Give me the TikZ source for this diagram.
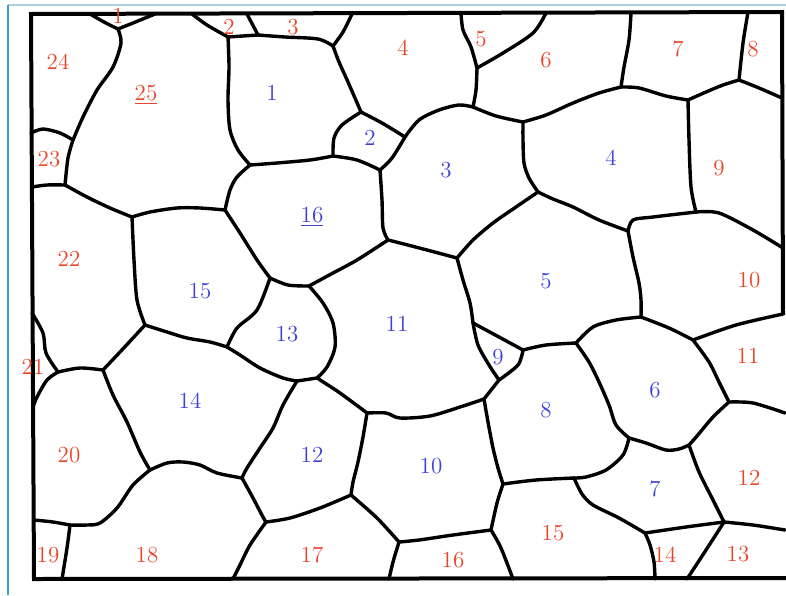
\documentclass[tikz,border=0pt]{standalone}
\usepackage{tikz}
\definecolor{grainred}{RGB}{232,68,40}
\definecolor{grainblue}{RGB}{64,64,214}
\definecolor{shotblue}{RGB}{60,160,205}
\definecolor{shotpale}{RGB}{175,205,225}
\begin{document}
\begin{tikzpicture}[x=0.5pt, y=-0.5pt,
  gb/.style={draw, line width=1.7pt, line cap=round, line join=round},
  frame/.style={draw, line width=2pt, line join=miter},
  redlab/.style={text=grainred, font=\fontsize{11.5}{13}\selectfont, inner sep=0pt},
  bluelab/.style={text=grainblue, font=\fontsize{11.5}{13}\selectfont, inner sep=0pt}]
\useasboundingbox (0,0) rectangle (786,595);
% screenshot edge
\draw[shotpale, line width=1pt] (8,5) -- (786,5);
\draw[shotblue, line width=1pt] (8,595) -- (8,5);
% frame
\draw[frame] (783,315) -- (782,12) -- (31,14) -- (34,579) -- (786,578);
% junctions
\coordinate (j1) at (118,29);
\coordinate (j2) at (73,140);
\coordinate (j3) at (65,185);
\coordinate (j4) at (132,217);
\coordinate (j5) at (145,325);
\coordinate (j6) at (225,210);
\coordinate (j7) at (228,37);
\coordinate (j8) at (250,165);
\coordinate (j10) at (270,278);
\coordinate (j11) at (309,286);
\coordinate (j12) at (388,240);
\coordinate (j13) at (333,156);
\coordinate (j14) at (361,112);
\coordinate (j15) at (380,170);
\coordinate (j16) at (473,107);
\coordinate (j17) at (405,137);
\coordinate (j18) at (333,46);
\coordinate (j19) at (258,35);
\coordinate (j20) at (477,68);
\coordinate (j21) at (621,87);
\coordinate (j22) at (523,122);
\coordinate (j23) at (688,100);
\coordinate (j24) at (739,80);
\coordinate (j25) at (696,212);
\coordinate (j26) at (628,231);
\coordinate (j27) at (538,192);
\coordinate (j28) at (457,258);
\coordinate (j29) at (641,317);
\coordinate (j30) at (693,340);
\coordinate (j31) at (729,402);
\coordinate (j32) at (689,445);
\coordinate (j33) at (724,522);
\coordinate (j34) at (645,533);
\coordinate (j35) at (574,478);
\coordinate (j36) at (629,438);
\coordinate (j37) at (576,343);
\coordinate (j38) at (523,350);
\coordinate (j39) at (499,380);
\coordinate (j40) at (473,323);
\coordinate (j41) at (484,399);
\coordinate (j42) at (503,484);
\coordinate (j43) at (491,530);
\coordinate (j44) at (399,542);
\coordinate (j45) at (351,495);
\coordinate (j46) at (367,413);
\coordinate (j47) at (317,378);
\coordinate (j48) at (297,381);
\coordinate (j49) at (242,478);
\coordinate (j50) at (266,522);
\coordinate (j51) at (103,370);
\coordinate (j52) at (150,470);
\coordinate (j53) at (227,347);
\coordinate (j54) at (58,372);
\coordinate (j55) at (70,525);
% ends on the frame
\coordinate (e1) at (90,14);
\coordinate (e2) at (155,14);
\coordinate (e3) at (192,14);
\coordinate (e4) at (247,14);
\coordinate (e5) at (352,14);
\coordinate (e6) at (461,13);
\coordinate (e7) at (546,13);
\coordinate (e8) at (631,13);
\coordinate (e9) at (748,12);
\coordinate (e10) at (782,98);
\coordinate (e11) at (783,248);
\coordinate (e12) at (783,314);
\coordinate (e13) at (785,413);
\coordinate (e14) at (785,530);
\coordinate (e15) at (687,579);
\coordinate (e16) at (655,579);
\coordinate (e17) at (513,579);
\coordinate (e18) at (389,579);
\coordinate (e19) at (233,579);
\coordinate (e20) at (62,579);
\coordinate (e21) at (34,520);
\coordinate (e22) at (33,407);
\coordinate (e23) at (32,313);
\coordinate (e24) at (32,187);
\coordinate (e25) at (31,133);
% grain boundaries, left part
\draw[gb] plot[smooth] coordinates {(e1) (104,22) (j1)};
\draw[gb] plot[smooth] coordinates {(j1) (133,23) (e2)};
\draw[gb] plot[smooth] coordinates {(j1) (121,43) (113,67) (97,90) (83,117) (j2)};
\draw[gb] plot[smooth] coordinates {(e25) (43,129) (60,133) (j2)};
\draw[gb] plot[smooth] coordinates {(j2) (68,158) (j3)};
\draw[gb] plot[smooth] coordinates {(e24) (47,185) (j3)};
\draw[gb] plot[smooth] coordinates {(j3) (87,197) (110,208) (j4)};
\draw[gb] plot[smooth] coordinates {(j4) (134,260) (137,300) (j5)};
\draw[gb] plot[smooth] coordinates {(j4) (150,212) (177,208) (200,208) (j6)};
\draw[gb] plot[smooth] coordinates {(e3) (207,25) (j7)};
\draw[gb] plot[smooth] coordinates {(j7) (229,67) (228,100) (230,130) (238,150) (j8)};
\draw[gb] plot[smooth] coordinates {(j8) (237,177) (230,190) (j6)};
\draw[gb] plot[smooth] coordinates {(j6) (240,233) (257,260) (j10)};
\draw[gb] plot[smooth] coordinates {(j10) (288,285) (j11)};
\draw[gb] plot[smooth] coordinates {(j8) (277,163) (310,160) (j13)};
\draw[gb] plot[smooth] coordinates {(j13) (357,160) (j15)};
\draw[gb] plot[smooth] coordinates {(j13) (334,138) (342,125) (j14)};
\draw[gb] plot[smooth] coordinates {(j14) (382,123) (j17)};
\draw[gb] plot[smooth] coordinates {(j15) (392,158) (j17)};
\draw[gb] plot[smooth] coordinates {(j15) (382,200) (383,228) (j12)};
\draw[gb] plot[smooth] coordinates {(j11) (333,273) (357,260) (j12)};
\draw[gb] (j7) -- (j19);
\draw[gb] (e4) -- (j19);
\draw[gb] plot[smooth] coordinates {(j19) (285,37) (318,39) (j18)};
\draw[gb] plot[smooth] coordinates {(e5) (343,32) (j18)};
\draw[gb] plot[smooth] coordinates {(j18) (339,62) (348,82) (j14)};
% top and right part
\draw[gb] plot[smooth] coordinates {(j17) (419,120) (439,110) (459,105) (j16)};
\draw[gb] plot[smooth] coordinates {(j16) (476,90) (j20)};
\draw[gb] plot[smooth] coordinates {(j20) (471,47) (463,30) (e6)};
\draw[gb] plot[smooth] coordinates {(j20) (503,53) (533,33) (e7)};
\draw[gb] plot[smooth] coordinates {(e8) (629,40) (624,67) (j21)};
\draw[gb] plot[smooth] coordinates {(j16) (496,116) (j22)};
\draw[gb] plot[smooth] coordinates {(j22) (546,115) (573,103) (599,93) (j21)};
\draw[gb] plot[smooth] coordinates {(j21) (639,88) (666,96) (j23)};
\draw[gb] plot[smooth] coordinates {(e9) (743,43) (j24)};
\draw[gb] plot[smooth] coordinates {(j23) (706,92) (723,85) (j24)};
\draw[gb] plot[smooth] coordinates {(j24) (759,88) (e10)};
\draw[gb] plot[smooth] coordinates {(j23) (689,140) (691,187) (j25)};
\draw[gb] plot[smooth] coordinates {(j25) (719,213) (753,230) (e11)};
\draw[gb] plot[smooth] coordinates {(j25) (653,217) (633,220) (j26)};
\draw[gb] plot[smooth] coordinates {(j26) (599,220) (573,207) (553,199) (j27)};
\draw[gb] plot[smooth] coordinates {(j22) (523,140) (524,163) (529,178) (j27)};
\draw[gb] plot[smooth] coordinates {(j27) (516,207) (493,223) (473,240) (j28)};
\draw[gb] plot[smooth] coordinates {(j28) (427,250) (400,243) (j12)};
\draw[gb] plot[smooth] coordinates {(j26) (633,257) (639,283) (641,300) (j29)};
\draw[gb] plot[smooth] coordinates {(j29) (669,328) (j30)};
\draw[gb] plot[smooth] coordinates {(j30) (736,325) (e12)};
\draw[gb] plot[smooth] coordinates {(j30) (709,362) (719,382) (j31)};
\draw[gb] plot[smooth] coordinates {(j31) (753,403) (e13)};
\draw[gb] plot[smooth] coordinates {(j31) (713,417) (697,436) (j32)};
\draw[gb] plot[smooth] coordinates {(j32) (699,472) (713,500) (j33)};
\draw[gb] plot[smooth] coordinates {(j33) (753,525) (e14)};
\draw[gb] plot[smooth] coordinates {(j33) (706,550) (e15)};
\draw[gb] plot[smooth] coordinates {(j33) (686,527) (j34)};
\draw[gb] plot[smooth] coordinates {(j34) (650,545) (654,562) (e16)};
\draw[gb] plot[smooth] coordinates {(j34) (619,518) (593,505) (582,494) (j35)};
\draw[gb] plot[smooth] coordinates {(j32) (679,449) (666,450) (646,443) (j36)};
\draw[gb] plot[smooth] coordinates {(j36) (623,455) (606,470) (586,477) (j35)};
\draw[gb] plot[smooth] coordinates {(j36) (616,425) (609,405) (599,382) (589,362) (j37)};
\draw[gb] plot[smooth] coordinates {(j29) (616,320) (593,327) (j37)};
\draw[gb] plot[smooth] coordinates {(j37) (546,345) (j38)};
\draw[gb] plot[smooth] coordinates {(j38) (499,337) (j40)};
\draw[gb] plot[smooth] coordinates {(j38) (518,365) (j39)};
\draw[gb] plot[smooth] coordinates {(j40) (478,345) (489,365) (j39)};
\draw[gb] plot[smooth] coordinates {(j28) (463,280) (470,303) (j40)};
% middle and bottom part
\draw[gb] (j39) -- (j41);
\draw[gb] plot[smooth] coordinates {(j41) (460,407) (430,416) (400,418) (386,413) (j46)};
\draw[gb] plot[smooth] coordinates {(j41) (488,422) (493,448) (498,468) (j42)};
\draw[gb] plot[smooth] coordinates {(j42) (536,480) (j35)};
\draw[gb] plot[smooth] coordinates {(j42) (497,503) (j43)};
\draw[gb] plot[smooth] coordinates {(j43) (501,548) (e17)};
\draw[gb] plot[smooth] coordinates {(j43) (453,535) (419,540) (j44)};
\draw[gb] plot[smooth] coordinates {(j44) (393,562) (e18)};
\draw[gb] plot[smooth] coordinates {(j45) (377,518) (j44)};
\draw[gb] plot[smooth] coordinates {(j46) (363,437) (358,462) (353,482) (j45)};
\draw[gb] plot[smooth] coordinates {(j11) (323,303) (333,323) (335,347) (327,367) (j47)};
\draw[gb] plot[smooth] coordinates {(j47) (340,393) (j46)};
\draw[gb] (j48) -- (j47);
\draw[gb] plot[smooth] coordinates {(j53) (240,355) (260,368) (283,378) (j48)};
\draw[gb] plot[smooth] coordinates {(j48) (283,405) (273,428) (260,448) (247,468) (j49)};
\draw[gb] plot[smooth] coordinates {(j49) (253,498) (263,517) (j50)};
\draw[gb] plot[smooth] coordinates {(j50) (290,518) (320,508) (j45)};
\draw[gb] plot[smooth] coordinates {(j50) (250,545) (240,565) (e19)};
\draw[gb] plot[smooth] coordinates {(j10) (257,310) (237,328) (j53)};
\draw[gb] plot[smooth] coordinates {(j5) (167,332) (187,338) (210,342) (j53)};
\draw[gb] plot[smooth] coordinates {(j5) (133,338) (120,352) (j51)};
\draw[gb] plot[smooth] coordinates {(j51) (80,368) (j54)};
\draw[gb] plot[smooth] coordinates {(e23) (43,333) (46,353) (j54)};
\draw[gb] plot[smooth] coordinates {(j54) (47,380) (37,397) (e22)};
\draw[gb] plot[smooth] coordinates {(j51) (113,395) (127,422) (140,452) (j52)};
\draw[gb] plot[smooth] coordinates {(j52) (167,463) (183,462) (200,465) (217,473) (j49)};
\draw[gb] plot[smooth] coordinates {(j52) (133,485) (117,508) (100,523) (87,525) (j55)};
\draw[gb] plot[smooth] coordinates {(j55) (53,522) (e21)};
\draw[gb] plot[smooth] coordinates {(j55) (67,548) (e20)};
% red numbers
\node[redlab] (red1) at (118,16) {1};
\node[redlab] (red2) at (229,27) {2};
\node[redlab] (red3) at (293,27) {3};
\node[redlab] (red4) at (403,48) {4};
\node[redlab] (red5) at (481,39) {5};
\node[redlab] (red6) at (546,60) {6};
\node[redlab] (red7) at (678,49) {7};
\node[redlab] (red8) at (753,49) {8};
\node[redlab] (red9) at (719,168) {9};
\node[redlab] (red10) at (749,280) {10};
\node[redlab] (red11) at (748,356) {11};
\node[redlab] (red12) at (749,478) {12};
\node[redlab] (red13) at (738,554) {13};
\node[redlab] (red14) at (665,555) {14};
\node[redlab] (red15) at (553,533) {15};
\node[redlab] (red16) at (453,560) {16};
\node[redlab] (red17) at (312,555) {17};
\node[redlab] (red18) at (147,555) {18};
\node[redlab] (red19) at (48,555) {19};
\node[redlab] (red20) at (69,455) {20};
\node[redlab] (red21) at (33,367) {21};
\node[redlab] (red22) at (69,259) {22};
\node[redlab] (red23) at (49,159) {23};
\node[redlab] (red24) at (58,62) {24};
\node[redlab] (red25) at (146,95) {\underline{25}};
% blue numbers
\node[bluelab] (blue1) at (272,93) {1};
\node[bluelab] (blue2) at (370,138) {2};
\node[bluelab] (blue3) at (446,170) {3};
\node[bluelab] (blue4) at (611,158) {4};
\node[bluelab] (blue5) at (546,281) {5};
\node[bluelab] (blue6) at (655,390) {6};
\node[bluelab] (blue7) at (655,489) {7};
\node[bluelab] (blue8) at (546,410) {8};
\node[bluelab] (blue9) at (498,357) {9};
\node[bluelab] (blue10) at (431,466) {10};
\node[bluelab] (blue11) at (397,324) {11};
\node[bluelab] (blue12) at (312,455) {12};
\node[bluelab] (blue13) at (287,334) {13};
\node[bluelab] (blue14) at (190,401) {14};
\node[bluelab] (blue15) at (200,291) {15};
\node[bluelab] (blue16) at (312,217) {\underline{16}};
\end{tikzpicture}
\end{document}
